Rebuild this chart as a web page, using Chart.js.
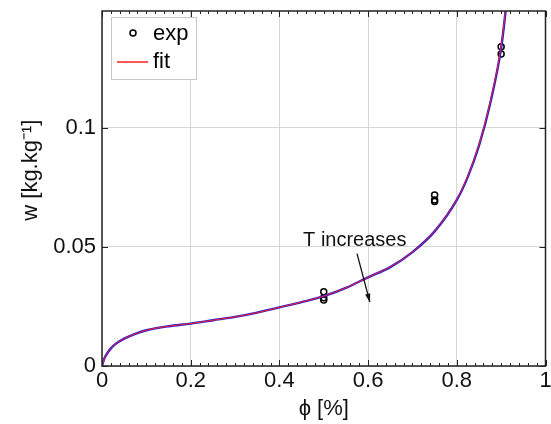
<!DOCTYPE html>
<html>
<head>
<meta charset="utf-8">
<script src="https://cdn.jsdelivr.net/npm/chart.js@4/dist/chart.umd.min.js"></script>
<style>
  html, body { margin: 0; padding: 0; background: #fff; }
  #wrap { width: 551px; height: 424px; }
</style>
</head>
<body>
<div id="wrap"><canvas id="chart" width="551" height="424"></canvas></div>
<script>
  // measured points (three repeats per humidity level)
  const expPhi = [0.5, 0.5, 0.5, 0.75, 0.75, 0.75, 0.9, 0.9];
  const expW = [0.0277, 0.0286, 0.0312, 0.0690, 0.0697, 0.0718, 0.1310, 0.1340];

  // fitted isotherms
  const fitPhi = [0, 0.005, 0.01, 0.02, 0.03, 0.05, 0.075, 0.1, 0.15, 0.2, 0.25, 0.3, 0.35, 0.4,
    0.45, 0.5, 0.55, 0.6, 0.65, 0.7, 0.75, 0.8, 0.825, 0.85, 0.875, 0.9, 0.91, 0.92];
  const redW = [0, 0.0030, 0.0048, 0.0074, 0.0092, 0.0115, 0.0135, 0.0150, 0.0167, 0.0178, 0.0192,
    0.0206, 0.0224, 0.0246, 0.0268, 0.0293, 0.0328, 0.0372, 0.0416, 0.0479, 0.0566, 0.0699, 0.0798,
    0.0929, 0.1106, 0.1343, 0.1500, 0.1690];
  const blueW = [0, 0.0030, 0.0048, 0.0074, 0.0092, 0.0115, 0.0135, 0.0150, 0.0167, 0.0178, 0.0192,
    0.0206, 0.0224, 0.0246, 0.0268, 0.0293, 0.0328, 0.0372, 0.0415, 0.0478, 0.0565, 0.0697, 0.0795,
    0.0925, 0.1100, 0.1335, 0.1490, 0.1680];

  const xTicks = [0, 0.2, 0.4, 0.6, 0.8, 1];
  const xTickLabels = ['0', '0.2', '0.4', '0.6', '0.8', '1'];
  const yTicks = [0, 0.05, 0.1];
  const yTickLabels = ['0', '0.05', '0.1'];
  const xMinorStep = 0.02;

  const annText = 'T increases';
  const annAt = { x: 0.57, y: 0.0525 };
  const annFrom = { x: 0.575, y: 0.0472 };
  const annTo = { x: 0.604, y: 0.0268 };

  const FONT = '"Liberation Sans", Arial, sans-serif';

  const toPts = (xs, ys) => xs.map((x, i) => ({ x: x, y: ys[i] }));

  // box, inside ticks, legend and the arrow note
  const decor = {
    id: 'decor',
    beforeDatasetsDraw(chart) {
      const { ctx, chartArea: a, scales } = chart;
      const sx = scales.x, sy = scales.y;
      ctx.save();
      ctx.strokeStyle = '#222';
      ctx.lineWidth = 1;
      for (let v = 0; v <= 1.0001; v += xMinorStep) {
        const px = Math.round(sx.getPixelForValue(v)) + 0.5;
        const major = xTicks.some(t => Math.abs(t - v) < 1e-6);
        const len = major ? 6 : 3;
        ctx.beginPath();
        ctx.moveTo(px, a.bottom); ctx.lineTo(px, a.bottom - len);
        ctx.moveTo(px, a.top); ctx.lineTo(px, a.top + len);
        ctx.stroke();
      }
      yTicks.forEach(v => {
        const py = Math.round(sy.getPixelForValue(v)) + 0.5;
        ctx.beginPath();
        ctx.moveTo(a.left, py); ctx.lineTo(a.left + 6, py);
        ctx.moveTo(a.right, py); ctx.lineTo(a.right - 6, py);
        ctx.stroke();
      });
      ctx.restore();
    },
    afterDatasetsDraw(chart) {
      const { ctx, chartArea: a, scales } = chart;
      const sx = scales.x, sy = scales.y;
      ctx.save();
      // frame
      ctx.strokeStyle = '#222';
      ctx.lineWidth = 1.5;
      ctx.strokeRect(a.left, a.top, a.right - a.left, a.bottom - a.top);

      // note with arrow
      ctx.fillStyle = '#111';
      ctx.font = '20px ' + FONT;
      ctx.textAlign = 'center';
      ctx.textBaseline = 'middle';
      ctx.fillText(annText, sx.getPixelForValue(annAt.x), sy.getPixelForValue(annAt.y));
      const x1 = sx.getPixelForValue(annFrom.x), y1 = sy.getPixelForValue(annFrom.y);
      const x2 = sx.getPixelForValue(annTo.x), y2 = sy.getPixelForValue(annTo.y);
      ctx.strokeStyle = '#111';
      ctx.lineWidth = 1.3;
      ctx.beginPath(); ctx.moveTo(x1, y1); ctx.lineTo(x2, y2); ctx.stroke();
      const ang = Math.atan2(y2 - y1, x2 - x1);
      ctx.beginPath();
      ctx.moveTo(x2, y2);
      ctx.lineTo(x2 - 9 * Math.cos(ang - 0.3), y2 - 9 * Math.sin(ang - 0.3));
      ctx.lineTo(x2 - 9 * Math.cos(ang + 0.3), y2 - 9 * Math.sin(ang + 0.3));
      ctx.closePath();
      ctx.fill();

      // legend box
      const lx = a.left + 9, ly = a.top + 6, lw = 85, lh = 62;
      ctx.fillStyle = '#fff';
      ctx.fillRect(lx, ly, lw, lh);
      ctx.strokeStyle = '#c8c8c8';
      ctx.lineWidth = 1;
      ctx.strokeRect(lx + 0.5, ly + 0.5, lw, lh);
      ctx.strokeStyle = '#000';
      ctx.lineWidth = 1.5;
      ctx.beginPath(); ctx.arc(lx + 22, ly + 16, 3, 0, Math.PI * 2); ctx.stroke();
      ctx.strokeStyle = '#ff2020';
      ctx.beginPath(); ctx.moveTo(lx + 6, ly + 45); ctx.lineTo(lx + 37, ly + 45); ctx.stroke();
      ctx.fillStyle = '#000';
      ctx.font = '22px ' + FONT;
      ctx.textAlign = 'left';
      ctx.textBaseline = 'middle';
      ctx.fillText('exp', lx + 42, ly + 17);
      ctx.fillText('fit', lx + 42, ly + 45);
      ctx.restore();
    }
  };

  new Chart(document.getElementById('chart'), {
    type: 'scatter',
    data: {
      datasets: [
        {
          label: 'fit',
          type: 'line',
          data: toPts(fitPhi, redW),
          borderColor: '#ff2020',
          borderWidth: 1,
          pointRadius: 0,
          fill: false,
          cubicInterpolationMode: 'monotone'
        },
        {
          label: 'fit2',
          type: 'line',
          data: toPts(fitPhi, blueW),
          borderColor: '#1c1ce0',
          borderWidth: 2.4,
          pointRadius: 0,
          fill: false,
          cubicInterpolationMode: 'monotone'
        },
        {
          label: 'exp',
          data: toPts(expPhi, expW),
          pointStyle: 'circle',
          pointRadius: 3,
          pointBorderWidth: 1.5,
          pointBorderColor: '#000',
          pointBackgroundColor: 'rgba(0,0,0,0)'
        }
      ]
    },
    options: {
      responsive: false,
      animation: false,
      layout: { padding: { left: 0, top: 11, right: 2, bottom: 0 } },
      plugins: { legend: { display: false }, tooltip: { enabled: false } },
      scales: {
        x: {
          type: 'linear',
          min: 0,
          max: 1,
          afterBuildTicks: s => { s.ticks = xTicks.map(v => ({ value: v })); },
          afterFit: s => { s.height = 58; s.paddingLeft = 0; s.paddingRight = 0; },
          ticks: {
            color: '#111',
            font: { family: FONT, size: 22 },
            padding: 2,
            maxRotation: 0,
            callback: (v, i) => xTickLabels[i]
          },
          grid: { color: '#d6d6d6', lineWidth: 1, drawTicks: false },
          border: { display: false },
          title: {
            display: true,
            text: 'ϕ [%]',
            color: '#111',
            font: { family: FONT, size: 22 },
            padding: { top: 0, bottom: 2 }
          }
        },
        y: {
          type: 'linear',
          min: 0,
          max: 0.149,
          afterBuildTicks: s => { s.ticks = yTicks.map(v => ({ value: v })); },
          afterFit: s => { s.width = 102; s.paddingTop = 0; s.paddingBottom = 0; },
          ticks: {
            color: '#111',
            font: { family: FONT, size: 22 },
            padding: 6,
            callback: (v, i) => yTickLabels[i]
          },
          grid: { color: '#d6d6d6', lineWidth: 1, drawTicks: false },
          border: { display: false },
          title: {
            display: true,
            text: '      w [kg.kg⁻¹]',
            color: '#111',
            font: { family: FONT, size: 22 },
            padding: { top: 18, bottom: 0 }
          }
        }
      }
    },
    plugins: [decor]
  });
</script>
</body>
</html>
